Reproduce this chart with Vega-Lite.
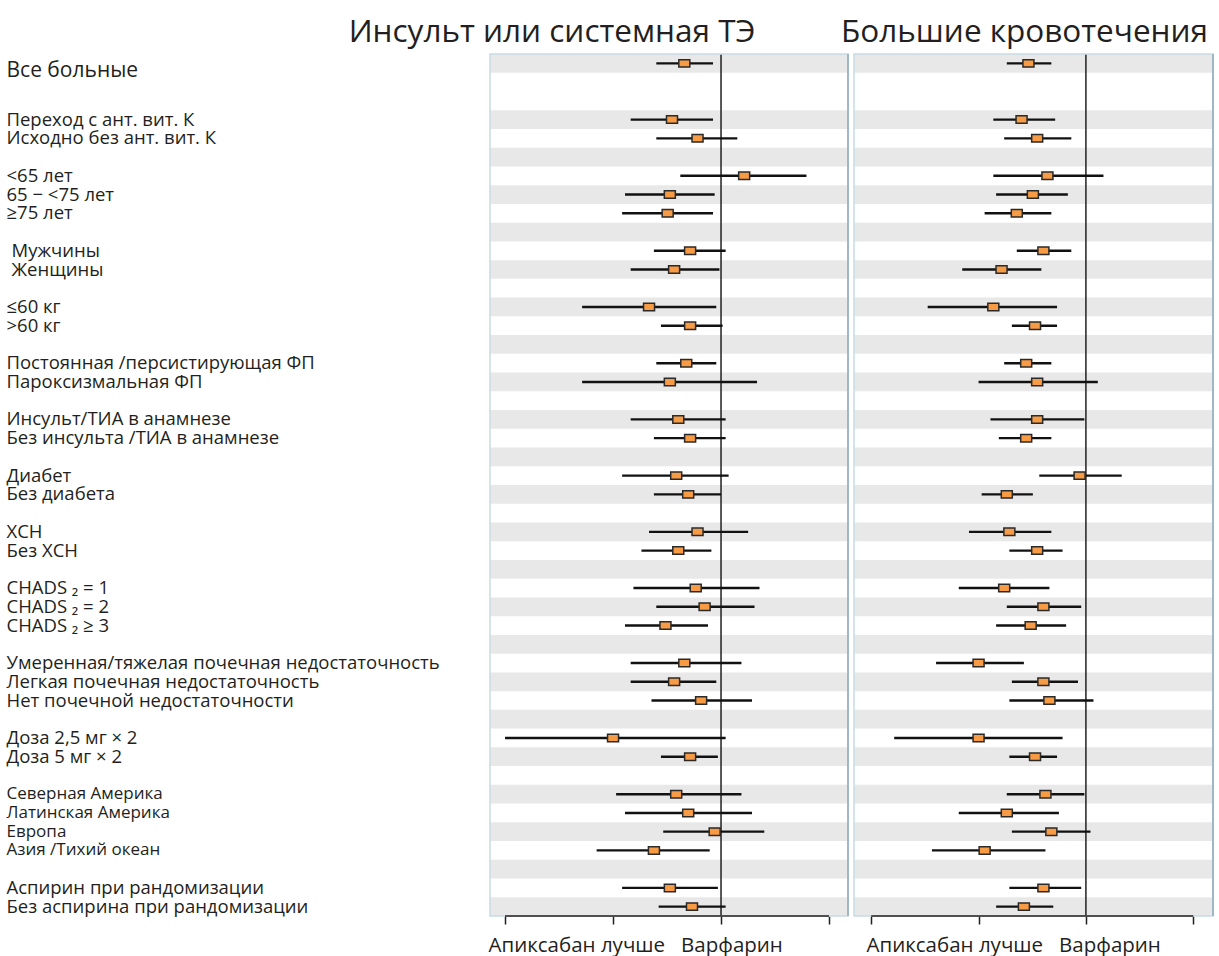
{
  "$schema": "https://vega.github.io/schema/vega-lite/v6.json",
  "padding": {"left": 6, "top": 16, "right": 6, "bottom": 0},
  "bounds": "flush",
  "spacing": 6,
  "config": {
    "font": "Open Sans",
    "view": {"stroke": null},
    "title": {"font": "Open Sans", "fontSize": 31.5, "fontWeight": "normal", "color": "#231f20", "anchor": "middle", "baseline": "alphabetic", "offset": 5}
  },
  "datasets": {
    "rows": [
      {"label": "Все больные", "stroke_hr": 0.79, "stroke_lo": 0.66, "stroke_hi": 0.95, "bleed_hr": 0.69, "bleed_lo": 0.60, "bleed_hi": 0.80},
      {"label": "Переход с ант. вит. К", "stroke_hr": 0.73, "stroke_lo": 0.56, "stroke_hi": 0.95, "bleed_hr": 0.66, "bleed_lo": 0.55, "bleed_hi": 0.82},
      {"label": "Исходно без ант. вит. К", "stroke_hr": 0.86, "stroke_lo": 0.66, "stroke_hi": 1.11, "bleed_hr": 0.73, "bleed_lo": 0.59, "bleed_hi": 0.91},
      {"label": "<65 лет", "stroke_hr": 1.16, "stroke_lo": 0.77, "stroke_hi": 1.73, "bleed_hr": 0.78, "bleed_lo": 0.55, "bleed_hi": 1.12},
      {"label": "65 − <75 лет", "stroke_hr": 0.72, "stroke_lo": 0.54, "stroke_hi": 0.96, "bleed_hr": 0.71, "bleed_lo": 0.56, "bleed_hi": 0.89},
      {"label": "≥75 лет", "stroke_hr": 0.71, "stroke_lo": 0.53, "stroke_hi": 0.95, "bleed_hr": 0.64, "bleed_lo": 0.52, "bleed_hi": 0.80},
      {"label": "Мужчины", "stroke_hr": 0.82, "stroke_lo": 0.65, "stroke_hi": 1.03, "bleed_hr": 0.76, "bleed_lo": 0.64, "bleed_hi": 0.91},
      {"label": "Женщины", "stroke_hr": 0.74, "stroke_lo": 0.56, "stroke_hi": 0.99, "bleed_hr": 0.58, "bleed_lo": 0.45, "bleed_hi": 0.75},
      {"label": "≤60 кг", "stroke_hr": 0.63, "stroke_lo": 0.41, "stroke_hi": 0.97, "bleed_hr": 0.55, "bleed_lo": 0.36, "bleed_hi": 0.83},
      {"label": ">60 кг", "stroke_hr": 0.82, "stroke_lo": 0.68, "stroke_hi": 1.01, "bleed_hr": 0.72, "bleed_lo": 0.62, "bleed_hi": 0.83},
      {"label": "Постоянная /персистирующая ФП", "stroke_hr": 0.80, "stroke_lo": 0.66, "stroke_hi": 0.97, "bleed_hr": 0.68, "bleed_lo": 0.59, "bleed_hi": 0.80},
      {"label": "Пароксизмальная ФП", "stroke_hr": 0.72, "stroke_lo": 0.41, "stroke_hi": 1.26, "bleed_hr": 0.73, "bleed_lo": 0.50, "bleed_hi": 1.08},
      {"label": "Инсульт/ТИА в анамнезе", "stroke_hr": 0.76, "stroke_lo": 0.56, "stroke_hi": 1.03, "bleed_hr": 0.73, "bleed_lo": 0.54, "bleed_hi": 0.99},
      {"label": "Без инсульта /ТИА в анамнезе", "stroke_hr": 0.82, "stroke_lo": 0.65, "stroke_hi": 1.03, "bleed_hr": 0.68, "bleed_lo": 0.57, "bleed_hi": 0.80},
      {"label": "Диабет", "stroke_hr": 0.75, "stroke_lo": 0.53, "stroke_hi": 1.05, "bleed_hr": 0.96, "bleed_lo": 0.74, "bleed_hi": 1.26},
      {"label": "Без диабета", "stroke_hr": 0.81, "stroke_lo": 0.65, "stroke_hi": 1.00, "bleed_hr": 0.60, "bleed_lo": 0.51, "bleed_hi": 0.71},
      {"label": "ХСН", "stroke_hr": 0.86, "stroke_lo": 0.63, "stroke_hi": 1.19, "bleed_hr": 0.61, "bleed_lo": 0.47, "bleed_hi": 0.80},
      {"label": "Без ХСН", "stroke_hr": 0.76, "stroke_lo": 0.60, "stroke_hi": 0.94, "bleed_hr": 0.73, "bleed_lo": 0.61, "bleed_hi": 0.86},
      {"label": "CHADS ₂ = 1", "stroke_hr": 0.85, "stroke_lo": 0.57, "stroke_hi": 1.28, "bleed_hr": 0.59, "bleed_lo": 0.44, "bleed_hi": 0.79},
      {"label": "CHADS ₂ = 2", "stroke_hr": 0.90, "stroke_lo": 0.66, "stroke_hi": 1.24, "bleed_hr": 0.76, "bleed_lo": 0.60, "bleed_hi": 0.97},
      {"label": "CHADS ₂ ≥ 3", "stroke_hr": 0.70, "stroke_lo": 0.54, "stroke_hi": 0.92, "bleed_hr": 0.70, "bleed_lo": 0.56, "bleed_hi": 0.88},
      {"label": "Умеренная/тяжелая почечная недостаточность", "stroke_hr": 0.79, "stroke_lo": 0.56, "stroke_hi": 1.14, "bleed_hr": 0.50, "bleed_lo": 0.38, "bleed_hi": 0.67},
      {"label": "Легкая почечная недостаточность", "stroke_hr": 0.74, "stroke_lo": 0.56, "stroke_hi": 0.97, "bleed_hr": 0.76, "bleed_lo": 0.62, "bleed_hi": 0.95},
      {"label": "Нет почечной недостаточности", "stroke_hr": 0.88, "stroke_lo": 0.64, "stroke_hi": 1.22, "bleed_hr": 0.79, "bleed_lo": 0.61, "bleed_hi": 1.05},
      {"label": "Доза 2,5 мг × 2", "stroke_hr": 0.50, "stroke_lo": 0.25, "stroke_hi": 1.03, "bleed_hr": 0.50, "bleed_lo": 0.29, "bleed_hi": 0.86},
      {"label": "Доза 5 мг × 2", "stroke_hr": 0.82, "stroke_lo": 0.68, "stroke_hi": 0.98, "bleed_hr": 0.72, "bleed_lo": 0.61, "bleed_hi": 0.83},
      {"label": "Северная Америка", "stroke_hr": 0.75, "stroke_lo": 0.51, "stroke_hi": 1.14, "bleed_hr": 0.77, "bleed_lo": 0.60, "bleed_hi": 0.99},
      {"label": "Латинская Америка", "stroke_hr": 0.81, "stroke_lo": 0.54, "stroke_hi": 1.22, "bleed_hr": 0.60, "bleed_lo": 0.44, "bleed_hi": 0.84},
      {"label": "Европа", "stroke_hr": 0.96, "stroke_lo": 0.69, "stroke_hi": 1.32, "bleed_hr": 0.80, "bleed_lo": 0.62, "bleed_hi": 1.03},
      {"label": "Азия /Тихий океан", "stroke_hr": 0.65, "stroke_lo": 0.45, "stroke_hi": 0.93, "bleed_hr": 0.52, "bleed_lo": 0.37, "bleed_hi": 0.77},
      {"label": "Аспирин при рандомизации", "stroke_hr": 0.72, "stroke_lo": 0.53, "stroke_hi": 0.98, "bleed_hr": 0.76, "bleed_lo": 0.61, "bleed_hi": 0.97},
      {"label": "Без аспирина при рандомизации", "stroke_hr": 0.83, "stroke_lo": 0.67, "stroke_hi": 1.03, "bleed_hr": 0.67, "bleed_lo": 0.56, "bleed_hi": 0.81}
    ],
    "stripes": [
      {"label": "Все больные"},
      {"label": "Переход с ант. вит. К"},
      {"label": "gap3"},
      {"label": "65 − <75 лет"},
      {"label": "gap4"},
      {"label": "Женщины"},
      {"label": "≤60 кг"},
      {"label": "gap6"},
      {"label": "Пароксизмальная ФП"},
      {"label": "Инсульт/ТИА в анамнезе"},
      {"label": "gap8"},
      {"label": "Без диабета"},
      {"label": "ХСН"},
      {"label": "gap10"},
      {"label": "CHADS ₂ = 2"},
      {"label": "gap11"},
      {"label": "Легкая почечная недостаточность"},
      {"label": "gap12"},
      {"label": "Доза 5 мг × 2"},
      {"label": "Северная Америка"},
      {"label": "Европа"},
      {"label": "gap14"},
      {"label": "Без аспирина при рандомизации"}
    ],
    "reference": [
      {"null_hr": 1, "tick_lo": 0.25, "tick_hi": 2}
    ]
  },
  "hconcat": [
    {
      "width": 358,
      "height": 862,
      "title": {"text": "Инсульт или системная ТЭ", "dx": -117},
      "layer": [
        {
          "data": {"name": "stripes"},
          "mark": {"type": "rect", "color": "#e8e8e8"},
          "encoding": {
            "y": {
              "field": "label", "type": "nominal",
              "scale": {"type": "band", "paddingInner": 0, "paddingOuter": 0, "domain": ["Все больные", "gap1", "gap2", "Переход с ант. вит. К", "Исходно без ант. вит. К", "gap3", "<65 лет", "65 − <75 лет", "≥75 лет", "gap4", "Мужчины", "Женщины", "gap5", "≤60 кг", ">60 кг", "gap6", "Постоянная /персистирующая ФП", "Пароксизмальная ФП", "gap7", "Инсульт/ТИА в анамнезе", "Без инсульта /ТИА в анамнезе", "gap8", "Диабет", "Без диабета", "gap9", "ХСН", "Без ХСН", "gap10", "CHADS ₂ = 1", "CHADS ₂ = 2", "CHADS ₂ ≥ 3", "gap11", "Умеренная/тяжелая почечная недостаточность", "Легкая почечная недостаточность", "Нет почечной недостаточности", "gap12", "Доза 2,5 мг × 2", "Доза 5 мг × 2", "gap13", "Северная Америка", "Латинская Америка", "Европа", "Азия /Тихий океан", "gap14", "Аспирин при рандомизации", "Без аспирина при рандомизации"]},
              "axis": {
                "title": null, "domain": false, "ticks": false, "tickSize": 0,
                "labelAlign": "left", "labelLimit": 600,
                "labelPadding": {"condition": {"test": "indexof(['Мужчины', 'Женщины'], datum.value) >= 0", "value": 479}, "value": 484},
                "labelOffset": {"condition": {"test": "datum.value == 'Все больные'", "value": 8}, "value": 0},
                "labelColor": "#231f20", "labelFont": "Open Sans",
                "labelFontSize": {"condition": [
                  {"test": "datum.value == 'Все больные'", "value": 21},
                  {"test": "indexof(['Северная Америка', 'Латинская Америка', 'Европа', 'Азия /Тихий океан'], datum.value) >= 0", "value": 17}
                ], "value": 18.5},
                "labelExpr": "indexof(datum.value, 'gap') == 0 ? '' : datum.value"
              }
            },
            "x": {"datum": 0.227, "type": "quantitative"},
            "x2": {"datum": 2.259}
          }
        },
        {
          "data": {"name": "reference"},
          "mark": {"type": "rule", "color": "#231f20", "strokeWidth": 1.5},
          "encoding": {"x": {"field": "null_hr", "type": "quantitative"}}
        },
        {
          "data": {"name": "rows"},
          "mark": {"type": "rule", "color": "#111111", "strokeWidth": 2.4},
          "encoding": {
            "y": {"field": "label", "type": "nominal"},
            "x": {
              "field": "stroke_lo", "type": "quantitative",
              "scale": {"type": "log", "domain": [0.227, 2.259], "nice": false, "zero": false},
              "axis": {
                "values": [0.25, 0.5, 1, 2], "labels": false, "domain": false, "grid": false,
                "ticks": true, "tickSize": 8, "tickWidth": 1.5, "tickColor": "#231f20",
                "title": "Апиксабан лучше\u00a0\u00a0\u00a0Варфарин", "titleFont": "Open Sans", "titleFontSize": 20.5,
                "titleFontWeight": "normal", "titleColor": "#231f20", "titleAnchor": "start", "titleAlign": "left",
                "titleX": -2, "titleBaseline": "top", "titlePadding": 11
              }
            },
            "x2": {"field": "stroke_hi"}
          }
        },
        {
          "data": {"name": "rows"},
          "mark": {"type": "point", "shape": "M-1,-0.68H1V0.68H-1Z", "filled": true, "size": 121, "fill": "#f79b45", "stroke": "#2a2a2a", "strokeWidth": 1.5, "opacity": 1},
          "encoding": {
            "y": {"field": "label", "type": "nominal"},
            "x": {"field": "stroke_hr", "type": "quantitative"}
          }
        },
        {
          "data": {"name": "reference"},
          "mark": {"type": "rect", "fillOpacity": 0, "stroke": "#c8dbe4", "strokeWidth": 1.5},
          "encoding": {
            "x": {"datum": 0.227, "type": "quantitative"},
            "x2": {"datum": 2.259},
            "y": {"value": 0},
            "y2": {"value": "height"}
          }
        },
        {
          "data": {"name": "reference"},
          "mark": {"type": "rule", "color": "#8eaab8", "strokeWidth": 1.5},
          "encoding": {"x": {"datum": 2.259, "type": "quantitative"}}
        },
        {
          "data": {"name": "reference"},
          "mark": {"type": "rule", "color": "#231f20", "strokeWidth": 1.5},
          "encoding": {
            "x": {"field": "tick_lo", "type": "quantitative"},
            "x2": {"field": "tick_hi"},
            "y": {"value": "height"}
          }
        }
      ]
    },
    {
      "width": 359,
      "height": 862,
      "title": {"text": "Большие кровотечения", "dx": -9},
      "layer": [
        {
          "data": {"name": "stripes"},
          "mark": {"type": "rect", "color": "#e8e8e8"},
          "encoding": {
            "y": {
              "field": "label", "type": "nominal",
              "scale": {"type": "band", "paddingInner": 0, "paddingOuter": 0, "domain": ["Все больные", "gap1", "gap2", "Переход с ант. вит. К", "Исходно без ант. вит. К", "gap3", "<65 лет", "65 − <75 лет", "≥75 лет", "gap4", "Мужчины", "Женщины", "gap5", "≤60 кг", ">60 кг", "gap6", "Постоянная /персистирующая ФП", "Пароксизмальная ФП", "gap7", "Инсульт/ТИА в анамнезе", "Без инсульта /ТИА в анамнезе", "gap8", "Диабет", "Без диабета", "gap9", "ХСН", "Без ХСН", "gap10", "CHADS ₂ = 1", "CHADS ₂ = 2", "CHADS ₂ ≥ 3", "gap11", "Умеренная/тяжелая почечная недостаточность", "Легкая почечная недостаточность", "Нет почечной недостаточности", "gap12", "Доза 2,5 мг × 2", "Доза 5 мг × 2", "gap13", "Северная Америка", "Латинская Америка", "Европа", "Азия /Тихий океан", "gap14", "Аспирин при рандомизации", "Без аспирина при рандомизации"]},
              "axis": null
            },
            "x": {"datum": 0.2237, "type": "quantitative"},
            "x2": {"datum": 2.272}
          }
        },
        {
          "data": {"name": "reference"},
          "mark": {"type": "rule", "color": "#231f20", "strokeWidth": 1.5},
          "encoding": {"x": {"field": "null_hr", "type": "quantitative"}}
        },
        {
          "data": {"name": "rows"},
          "mark": {"type": "rule", "color": "#111111", "strokeWidth": 2.4},
          "encoding": {
            "y": {"field": "label", "type": "nominal"},
            "x": {
              "field": "bleed_lo", "type": "quantitative",
              "scale": {"type": "log", "domain": [0.2237, 2.272], "nice": false, "zero": false},
              "axis": {
                "values": [0.25, 0.5, 1, 2], "labels": false, "domain": false, "grid": false,
                "ticks": true, "tickSize": 8, "tickWidth": 1.5, "tickColor": "#231f20",
                "title": "Апиксабан лучше\u00a0\u00a0\u00a0Варфарин", "titleFont": "Open Sans", "titleFontSize": 20.5,
                "titleFontWeight": "normal", "titleColor": "#231f20", "titleAnchor": "start", "titleAlign": "left",
                "titleX": 12, "titleBaseline": "top", "titlePadding": 11
              }
            },
            "x2": {"field": "bleed_hi"}
          }
        },
        {
          "data": {"name": "rows"},
          "mark": {"type": "point", "shape": "M-1,-0.68H1V0.68H-1Z", "filled": true, "size": 121, "fill": "#f79b45", "stroke": "#2a2a2a", "strokeWidth": 1.5, "opacity": 1},
          "encoding": {
            "y": {"field": "label", "type": "nominal"},
            "x": {"field": "bleed_hr", "type": "quantitative"}
          }
        },
        {
          "data": {"name": "reference"},
          "mark": {"type": "rect", "fillOpacity": 0, "stroke": "#c8dbe4", "strokeWidth": 1.5},
          "encoding": {
            "x": {"datum": 0.2237, "type": "quantitative"},
            "x2": {"datum": 2.272},
            "y": {"value": 0},
            "y2": {"value": "height"}
          }
        },
        {
          "data": {"name": "reference"},
          "mark": {"type": "rule", "color": "#8eaab8", "strokeWidth": 1.5},
          "encoding": {"x": {"datum": 2.272, "type": "quantitative"}}
        },
        {
          "data": {"name": "reference"},
          "mark": {"type": "rule", "color": "#231f20", "strokeWidth": 1.5},
          "encoding": {
            "x": {"field": "tick_lo", "type": "quantitative"},
            "x2": {"field": "tick_hi"},
            "y": {"value": "height"}
          }
        }
      ]
    }
  ],
  "resolve": {"scale": {"x": "independent", "y": "independent"}}
}
